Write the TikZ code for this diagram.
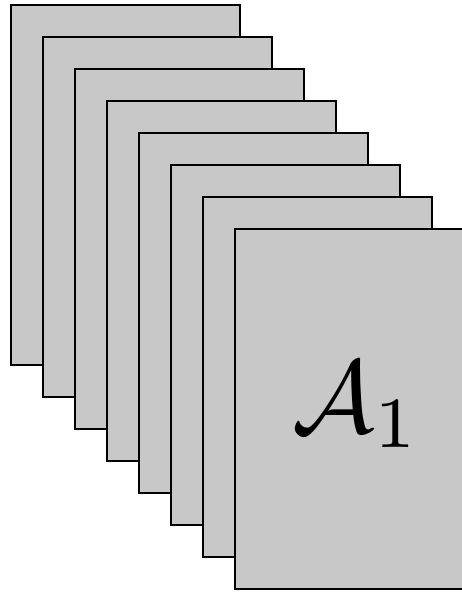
\documentclass[tikz,border=0pt]{standalone}
\usepackage{graphicx}
\begin{document}
\begin{tikzpicture}[x=1pt,y=1pt,
  page/.style={draw=black, line width=2pt, fill={rgb,255:red,200;green,200;blue,200},
    rectangle, minimum width=229pt, minimum height=359.5pt, inner sep=0pt, outer sep=0pt},
  biglabel/.style={inner sep=0pt}]
\useasboundingbox (0,0) rectangle (462,593);
\begin{scope}
\clip (0,0) rectangle (462,593);
\foreach \i in {0,...,7} {
  \node[page] (p\i) at ({125.5+32*\i},{407.75-32*\i}) {};
}
\node[biglabel] (lbl) at ([xshift=7pt,yshift=4.5pt]p7.center) {\scalebox{10.3}{$\mathcal{A}_1$}};
\end{scope}
\end{tikzpicture}
\end{document}
